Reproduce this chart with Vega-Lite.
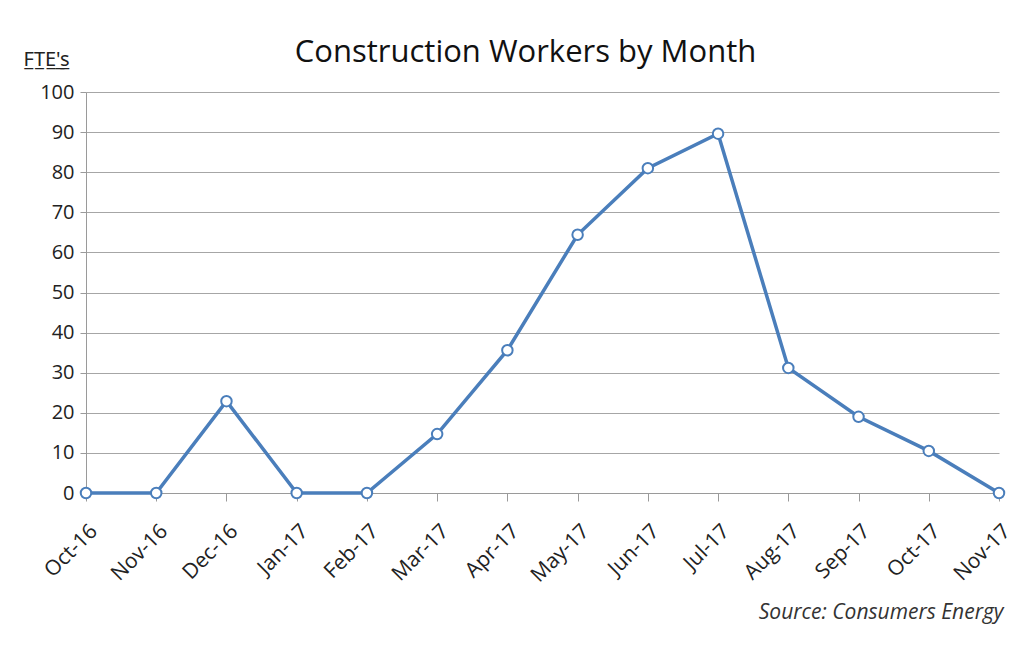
{
  "$schema": "https://vega.github.io/schema/vega-lite/v6.json",
  "width": 913,
  "height": 401,
  "autosize": {"type": "none"},
  "padding": {"left": 86, "top": 92, "right": 35, "bottom": 152},
  "background": "white",
  "title": {
    "text": "Construction Workers by Month",
    "font": "Open Sans",
    "fontSize": 31,
    "fontWeight": "normal",
    "color": "#111111",
    "anchor": "middle",
    "dx": -17,
    "offset": -20
  },
  "data": {
    "values": [
      {"month": "Oct-16", "fte": 0},
      {"month": "Nov-16", "fte": 0},
      {"month": "Dec-16", "fte": 22.9},
      {"month": "Jan-17", "fte": 0},
      {"month": "Feb-17", "fte": 0},
      {"month": "Mar-17", "fte": 14.7},
      {"month": "Apr-17", "fte": 35.6},
      {"month": "May-17", "fte": 64.4},
      {"month": "Jun-17", "fte": 81},
      {"month": "Jul-17", "fte": 89.6},
      {"month": "Aug-17", "fte": 31.2},
      {"month": "Sep-17", "fte": 19},
      {"month": "Oct-17", "fte": 10.5},
      {"month": "Nov-17", "fte": 0}
    ]
  },
  "encoding": {
    "x": {
      "field": "month",
      "type": "ordinal",
      "sort": null,
      "scale": {"type": "point", "padding": 0},
      "axis": {
        "title": "Source: Consumers Energy",
        "titleFont": "Open Sans",
        "titleFontStyle": "italic",
        "titleFontWeight": "normal",
        "titleFontSize": 21,
        "titleColor": "#333333",
        "titleAnchor": "end",
        "titleAlign": "right",
        "titleBaseline": "alphabetic",
        "titleX": 917,
        "titleY": 125,
        "labelAngle": -45,
        "labelFont": "Open Sans",
        "labelFontSize": 21,
        "labelColor": "#222222",
        "labelPadding": 19,
        "domainColor": "#9a9a9a",
        "tickColor": "#9a9a9a",
        "tickSize": 8,
        "grid": false
      }
    },
    "y": {
      "field": "fte",
      "type": "quantitative",
      "scale": {"domain": [0, 100], "nice": false},
      "axis": {
        "title": "F̲T̲E̲'̲s̲",
        "titleAngle": 0,
        "titleFont": "Noto Sans",
        "titleFontSize": 20,
        "titleFontWeight": "normal",
        "titleColor": "#222222",
        "titleAlign": "left",
        "titleBaseline": "alphabetic",
        "titleX": -63,
        "titleY": -27,
        "values": [0, 10, 20, 30, 40, 50, 60, 70, 80, 90, 100],
        "labelFont": "Open Sans",
        "labelFontSize": 20,
        "labelColor": "#222222",
        "labelPadding": 6,
        "tickSize": 6,
        "tickColor": "#9a9a9a",
        "domainColor": "#9a9a9a",
        "gridColor": "#a6a6a6",
        "gridWidth": 1.2
      }
    }
  },
  "layer": [
    {
      "mark": {"type": "line", "color": "#4a7ebb", "strokeWidth": 3.5}
    },
    {
      "mark": {"type": "point", "filled": true, "fill": "white", "stroke": "#4a7ebb", "strokeWidth": 2, "size": 110, "opacity": 1}
    }
  ],
  "config": {
    "view": {"stroke": null}
  }
}
